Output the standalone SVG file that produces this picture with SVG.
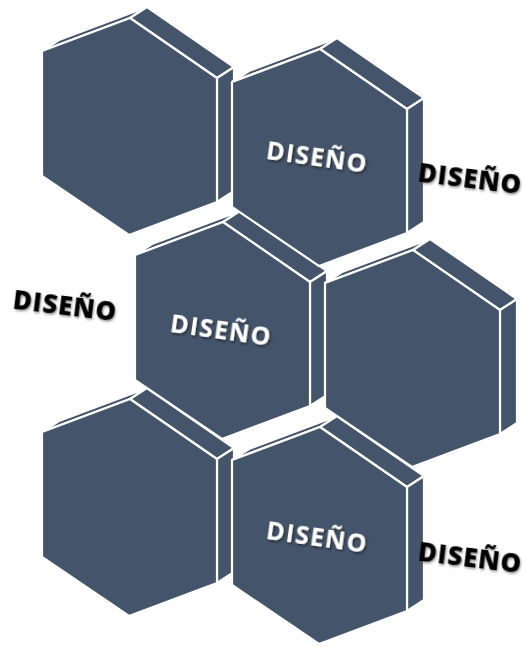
<svg xmlns="http://www.w3.org/2000/svg" width="525" height="646" viewBox="0 0 525 646">
  <style>
    .f { fill: #44546A; stroke: #FFFFFF; stroke-width: 2.2; stroke-linejoin: miter; }
    .tw { font-family: "Open Sans", "DejaVu Sans", sans-serif; font-weight: 700; font-size: 25px; fill: #FFFFFF; letter-spacing: 1.2px; text-anchor: middle; }
    .tb { font-family: "Open Sans", "DejaVu Sans", sans-serif; font-weight: 800; font-size: 26px; fill: #000000; letter-spacing: 0.8px; text-anchor: middle; }
  </style>
  <defs>
    <g id="hex">
      <polygon class="f" points="0,0 88,-33 105,-44 17,-11"/>
      <polygon class="f" points="88,-33 175,27 192,16 105,-44"/>
      <polygon class="f" points="175,27 175,151 192,140 192,16"/>
      <polygon class="f" points="0,0 88,-33 175,27 175,151 87,184 0,125"/>
    </g>
    <filter id="sw" x="-20%" y="-30%" width="140%" height="160%">
      <feDropShadow dx="1.5" dy="1.5" stdDeviation="1" flood-color="#1a1a1a" flood-opacity="0.75"/>
    </filter>
    <filter id="sb" x="-20%" y="-30%" width="140%" height="160%">
      <feGaussianBlur in="SourceGraphic" stdDeviation="0.5" result="b"/>
      <feDropShadow in="b" dx="1" dy="1.5" stdDeviation="1" flood-color="#555" flood-opacity="0.6"/>
    </filter>
  </defs>

  <g id="hex5"><use href="#hex" transform="translate(42,432)"/></g>
  <g id="hex6"><use href="#hex" transform="translate(232,460)"/>
    <text class="tw" filter="url(#sw)" transform="rotate(8 317 537)" x="317" y="546">DISEÑO</text></g>
  <g id="hex3"><use href="#hex" transform="translate(135,255)"/>
    <text class="tw" filter="url(#sw)" transform="rotate(8 221 330)" x="221" y="339">DISEÑO</text></g>
  <g id="hex4"><use href="#hex" transform="translate(325,283)"/></g>
  <g id="hex1"><use href="#hex" transform="translate(42,51)"/></g>
  <g id="hex2"><use href="#hex" transform="translate(232,82)"/>
    <text class="tw" filter="url(#sw)" transform="rotate(8 317 157)" x="317" y="166">DISEÑO</text></g>

  <g id="labels">
    <text class="tb" filter="url(#sb)" transform="rotate(7 470 179)" x="470" y="188">DISEÑO</text>
    <text class="tb" filter="url(#sb)" transform="rotate(7 65 306)" x="65" y="315">DISEÑO</text>
    <text class="tb" filter="url(#sb)" transform="rotate(7 470 558)" x="470" y="567">DISEÑO</text>
  </g>
  <g id="connectors"/>
</svg>
